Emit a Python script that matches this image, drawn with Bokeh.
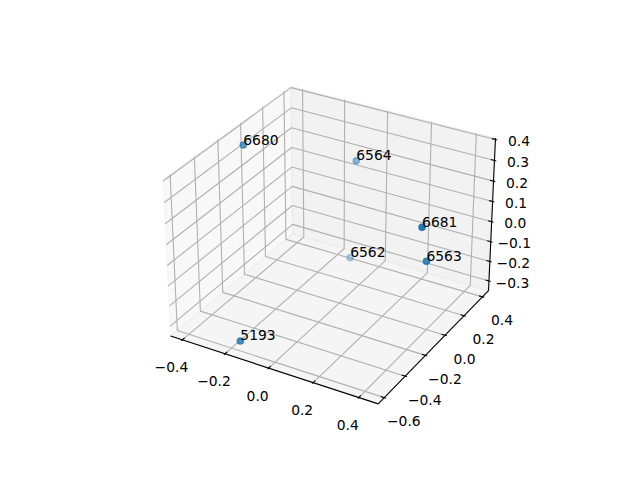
import numpy as np
from bokeh.core.properties import value
from bokeh.embed import file_html
from bokeh.models import ColumnDataSource, Range1d
from bokeh.plotting import figure
from bokeh.resources import INLINE

# Data
point_labels = ["6680", "6564", "5193", "6681", "6562", "6563"]
point_x = [-0.379, -0.093, -0.147, 0.441, -0.116, 0.424]
point_y = [-0.124, 0.359, -0.620, -0.168, 0.352, -0.075]
point_z = [0.372, 0.179, -0.286, 0.241, -0.318, 0.032]

x_ticks = [-0.4, -0.2, 0.0, 0.2, 0.4]
y_ticks = [-0.6, -0.4, -0.2, 0.0, 0.2, 0.4]
z_ticks = [-0.3, -0.2, -0.1, 0.0, 0.1, 0.2, 0.3, 0.4]
x_lim = (-0.456, 0.484)
y_lim = (-0.657, 0.467)
z_lim = (-0.35, 0.407)

# 3D view (elevation 30, azimuth -60, distance 10)
elev, azim, dist = np.radians(30), np.radians(-60), 10.0
aspect = np.array([4.0, 4.0, 3.0])
aspect = aspect * 1.8294640721620434 * 25 / 24 / np.linalg.norm(aspect)
lims = np.array([x_lim, y_lim, z_lim])
centre = aspect / 2
eye = centre + dist * np.array([np.cos(elev) * np.cos(azim), np.cos(elev) * np.sin(azim), np.sin(elev)])
w = (eye - centre) / np.linalg.norm(eye - centre)
u = np.cross([0, 0, 1.0], w)
u = u / np.linalg.norm(u)
v = np.cross(w, u)


def project(xs, ys, zs):
    pts = (np.column_stack([xs, ys, zs]) - lims[:, 0]) / (lims[:, 1] - lims[:, 0]) * aspect - eye
    zv = pts @ w
    return (pts @ u) / -zv, (pts @ v) / -zv, 10.0 / zv


def path(*corners):
    a = np.array(corners, dtype=float)
    px, py, _ = project(a[:, 0], a[:, 1], a[:, 2])
    return list(px), list(py)


(x0, x1), (y0, y1), (z0, z1) = x_lim, y_lim, z_lim

# The square axes box of the 640x480 picture maps the projected plane to pixels
box_left, box_bottom, box_size = 142.2, 426.7, 369.6
low, high = -0.095, 0.09
per_px = (high - low) / box_size
W, H = 624, 464
p = figure(
    width=W, height=H, toolbar_location=None, output_backend="svg",
    x_axis_type=None, y_axis_type=None, min_border=0, outline_line_color=None,
    x_range=Range1d(low + (0 - box_left) * per_px, low + (W - box_left) * per_px),
    y_range=Range1d(low + (box_bottom - H) * per_px, low + box_bottom * per_px),
)
p.grid.visible = False

# Panes
panes = [
    ([(x0, y0, z0), (x0, y1, z0), (x0, y1, z1), (x0, y0, z1)], 0.95),
    ([(x0, y1, z0), (x1, y1, z0), (x1, y1, z1), (x0, y1, z1)], 0.90),
    ([(x0, y0, z0), (x1, y0, z0), (x1, y1, z0), (x0, y1, z0)], 0.925),
]
for corners, grey in panes:
    px, py = path(*corners)
    c = (int(grey * 255), int(grey * 255), int(grey * 255))
    p.patch(px, py, fill_color=c, fill_alpha=0.5, line_color=c, line_alpha=0.5, line_width=1.11)

# Grid lines
grid_color = "#b0b0b0"
for t in x_ticks:
    px, py = path((t, y0, z0), (t, y1, z0), (t, y1, z1))
    p.line(px, py, line_color=grid_color, line_width=1.11)
for t in y_ticks:
    px, py = path((x1, t, z0), (x0, t, z0), (x0, t, z1))
    p.line(px, py, line_color=grid_color, line_width=1.11)
for t in z_ticks:
    px, py = path((x0, y0, t), (x0, y1, t), (x1, y1, t))
    p.line(px, py, line_color=grid_color, line_width=1.11)

# Axis lines
for a, b in [((x0, y0, z0), (x1, y0, z0)), ((x1, y0, z0), (x1, y1, z0)), ((x1, y1, z0), (x1, y1, z1))]:
    px, py = path(a, b)
    p.line(px, py, line_color="black", line_width=1.11)

# Tick marks
dx, dy = (x1 - x0) / 12, (y1 - y0) / 12
for t in x_ticks:
    px, py = path((t, y0 - 0.1 * dy, z0), (t, y0 + 0.2 * dy, z0))
    p.line(px, py, line_color="black", line_width=1.11)
for t in y_ticks:
    px, py = path((x1 + 0.1 * dx, t, z0), (x1 - 0.2 * dx, t, z0))
    p.line(px, py, line_color="black", line_width=1.11)
for t in z_ticks:
    px, py = path((x1 + 0.1 * dx, y1, t), (x1 - 0.2 * dx, y1, t))
    p.line(px, py, line_color="black", line_width=1.11)


def tick_text(t):
    return f"{t:.1f}".replace("-", "\u2212")


def tick_labels(xs, ys, zs, ticks, ox, oy):
    px, py, _ = project(xs, ys, zs)
    src = ColumnDataSource(dict(x=px, y=py, t=[tick_text(t) for t in ticks]))
    p.text("x", "y", text="t", source=src, x_offset=ox, y_offset=oy, text_align="center",
           text_baseline="middle", text_font=value("DejaVu Sans"), text_font_size=value("13.89px"),
           text_color="black")


n = len(x_ticks)
tick_labels(x_ticks, [y0] * n, [z0] * n, x_ticks, -11, 27.5)
n = len(y_ticks)
tick_labels([x1] * n, y_ticks, [z0] * n, y_ticks, 19.5, 23.5)
n = len(z_ticks)
tick_labels([x1] * n, [y1] * n, z_ticks, z_ticks, 23.5, 1.5)

# Points, faded with depth
px, py, pz = project(point_x, point_y, point_z)
shade = 1 - (pz - pz.min()) / (pz.max() - pz.min()) * 0.7
order = np.argsort(pz)[::-1]
src = ColumnDataSource(dict(x=px[order], y=py[order], a=shade[order]))
p.scatter("x", "y", source=src, size=6.2, fill_color="#1f77b4", line_color="#1f77b4",
          line_width=1.39, fill_alpha="a", line_alpha="a")
src = ColumnDataSource(dict(x=px, y=py, t=point_labels))
p.text("x", "y", text="t", source=src, y_offset=-5.5, text_align="left", text_baseline="alphabetic",
       text_font=value("DejaVu Sans"), text_font_size=value("13.89px"), text_color="black")

open("out.html", "w").write(file_html(p, INLINE))
